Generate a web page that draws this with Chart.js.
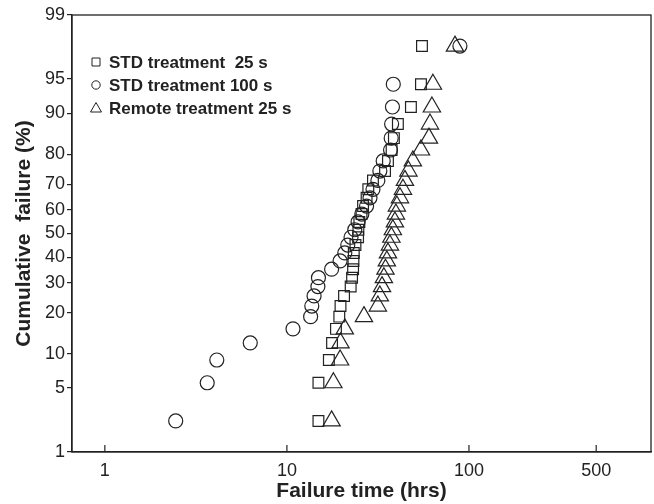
<!DOCTYPE html>
<html>
<head>
<meta charset="utf-8">
<script src="https://cdn.jsdelivr.net/npm/chart.js@4.4.1/dist/chart.umd.min.js"></script>
<style>
  html, body { margin: 0; padding: 0; background: #fff; }
</style>
</head>
<body>
<canvas id="c" width="654" height="504"></canvas>
<script>
// cumulative failure (%) levels, shared by the three samples (30 parts each)
const cumulativePct = [2.3, 5.6, 8.9, 12.2, 15.5, 18.8, 22.0, 25.3, 28.6, 31.9,
  35.2, 38.5, 41.8, 45.1, 48.4, 51.6, 54.9, 58.2, 61.5, 64.8,
  68.1, 71.4, 74.7, 78.0, 81.3, 84.5, 87.8, 91.1, 94.4, 97.7];

const std25Hours = [14.9, 14.9, 17.0, 17.7, 18.6, 19.4, 19.7, 20.6, 22.4, 22.8,
  23.1, 23.2, 23.3, 23.8, 24.6, 24.7, 25.0, 25.7, 26.2, 27.4,
  28.0, 29.7, 34.6, 35.9, 37.6, 38.7, 40.7, 48.0, 54.5, 55.2];
const std100Hours = [2.45, 3.65, 4.12, 6.29, 10.8, 13.5, 13.7, 14.1, 14.8, 14.9,
  17.6, 19.6, 20.8, 21.6, 22.5, 23.6, 24.6, 25.8, 27.4, 28.6,
  29.7, 31.6, 32.4, 33.8, 37.1, 37.4, 37.6, 38.0, 38.4, 89.2];
const remote25Hours = [17.6, 18.0, 19.6, 19.7, 20.8, 26.5, 31.6, 32.4, 33.3, 34.1,
  34.8, 35.4, 35.9, 36.8, 37.5, 38.2, 39.2, 39.7, 40.2, 41.8,
  43.4, 44.5, 46.5, 49.2, 54.5, 60.3, 61.1, 62.6, 63.4, 83.8];

const seriesLabels = ['STD treatment  25 s', 'STD treatment 100 s', 'Remote treatment 25 s'];
const xTicks = [1, 10, 100, 500];
const yTicks = [1, 5, 10, 20, 30, 40, 50, 60, 70, 80, 90, 95, 99];

const INK = '#222';
Chart.defaults.font.family = '"Liberation Sans", Arial, sans-serif';
Chart.defaults.color = INK;

// inverse standard normal CDF (Acklam)
function probit(p) {
  const a = [-39.69683028665376, 220.9460984245205, -275.9285104469687, 138.3577518672690, -30.66479806614716, 2.506628277459239];
  const b = [-54.47609879822406, 161.5858368580409, -155.6989798598866, 66.80131188771972, -13.28068155288572];
  const c = [-0.007784894002430293, -0.3223964580411365, -2.400758277161838, -2.549732539343734, 4.374664141464968, 2.938163982698783];
  const d = [0.007784695709041462, 0.3224671290700398, 2.445134137142996, 3.754408661907416];
  const lo = 0.02425;
  if (p < lo) {
    const q = Math.sqrt(-2 * Math.log(p));
    return (((((c[0]*q+c[1])*q+c[2])*q+c[3])*q+c[4])*q+c[5]) / ((((d[0]*q+d[1])*q+d[2])*q+d[3])*q+1);
  }
  if (p > 1 - lo) {
    const q = Math.sqrt(-2 * Math.log(1 - p));
    return -(((((c[0]*q+c[1])*q+c[2])*q+c[3])*q+c[4])*q+c[5]) / ((((d[0]*q+d[1])*q+d[2])*q+d[3])*q+1);
  }
  const q = p - 0.5, r = q * q;
  return (((((a[0]*r+a[1])*r+a[2])*r+a[3])*r+a[4])*r+a[5])*q / (((((b[0]*r+b[1])*r+b[2])*r+b[3])*r+b[4])*r+1);
}

// normal probability axis (values in %)
class ProbitScale extends Chart.Scale {
  static id = 'probit';
  static defaults = {};
  determineDataLimits() {
    this.min = this.options.min;
    this.max = this.options.max;
  }
  buildTicks() {
    return yTicks.map(v => ({ value: v }));
  }
  configure() {
    super.configure();
    this._zMin = probit(this.min / 100);
    this._zMax = probit(this.max / 100);
  }
  getLabelForValue(v) { return String(v); }
  getPixelForValue(v) {
    return this.getPixelForDecimal((probit(v / 100) - this._zMin) / (this._zMax - this._zMin));
  }
  getValueForPixel(px) {
    return this._zMin + this.getDecimalForPixel(px) * (this._zMax - this._zMin);
  }
}
Chart.register(ProbitScale);

function toPoints(hours) {
  return hours.map((h, i) => ({ x: h, y: cumulativePct[i] }));
}

const markerBase = {
  borderColor: INK,
  backgroundColor: 'rgba(0,0,0,0)',
  borderWidth: 1.2,
  hoverRadius: 0,
};

function drawMarker(ctx, style, x, y) {
  ctx.beginPath();
  if (style === 'rect') {
    ctx.rect(x - 4, y - 4, 8, 8);
  } else if (style === 'circle') {
    ctx.arc(x, y, 4.2, 0, Math.PI * 2);
  } else {
    ctx.moveTo(x, y - 5.5);
    ctx.lineTo(x + 5.5, y + 4);
    ctx.lineTo(x - 5.5, y + 4);
    ctx.closePath();
  }
  ctx.stroke();
}

const framePlugin = {
  id: 'frame',
  afterDraw(chart) {
    const { ctx, chartArea: a } = chart;
    const x = chart.scales.x;
    ctx.save();
    ctx.strokeStyle = INK;
    ctx.lineWidth = 1.3;
    ctx.strokeRect(a.left, a.top, a.right - a.left, a.bottom - a.top);
    ctx.lineWidth = 1.2;
    x.ticks.forEach(t => {
      const px = x.getPixelForValue(t.value);
      ctx.beginPath();
      ctx.moveTo(px, a.bottom);
      ctx.lineTo(px, a.bottom - 7);
      ctx.stroke();
    });
    // legend, top left inside the plot
    ctx.font = 'bold 17px "Liberation Sans", Arial, sans-serif';
    ctx.fillStyle = INK;
    ctx.textBaseline = 'middle';
    ctx.lineWidth = 1;
    chart.data.datasets.forEach((ds, i) => {
      const ly = a.top + 47 + i * 23;
      drawMarker(ctx, ds.pointStyle, a.left + 24, ly);
      ctx.fillText(ds.label, a.left + 37, ly + 1);
    });
    ctx.restore();
  }
};

new Chart(document.getElementById('c'), {
  type: 'scatter',
  data: {
    datasets: [
      { ...markerBase, label: seriesLabels[0], data: toPoints(std25Hours), pointStyle: 'rect', radius: 7.6 },
      { ...markerBase, label: seriesLabels[1], data: toPoints(std100Hours), pointStyle: 'circle', radius: 7 },
      { ...markerBase, label: seriesLabels[2], data: toPoints(remote25Hours), pointStyle: 'triangle', radius: 10 },
    ],
  },
  options: {
    responsive: false,
    animation: false,
    layout: { autoPadding: false, padding: { top: 15, right: 3, left: 0, bottom: 0 } },
    plugins: { legend: { display: false }, tooltip: { enabled: false } },
    scales: {
      x: {
        type: 'logarithmic',
        min: 0.66,
        max: 1000,
        afterBuildTicks: s => { s.ticks = xTicks.map(v => ({ value: v })); },
        afterFit: s => { s.height = 52; },
        grid: { drawOnChartArea: false, drawTicks: false },
        border: { color: INK, width: 1.3 },
        ticks: { font: { size: 18 }, color: INK, padding: 8, autoSkip: false, maxRotation: 0, callback: v => String(v) },
        title: { display: true, text: 'Failure time (hrs)', font: { size: 21, weight: 'bold' }, color: INK, padding: { top: 0, bottom: 0 } },
      },
      y: {
        type: 'probit',
        min: 1,
        max: 99,
        afterFit: s => { s.width = 72; },
        grid: { drawOnChartArea: false, drawTicks: true, tickLength: 5, color: INK, lineWidth: 1.2 },
        border: { color: INK, width: 1.3 },
        ticks: { font: { size: 18 }, color: INK, padding: 2, autoSkip: false },
        title: { display: true, text: 'Cumulative  failure (%)', font: { size: 21, weight: 'bold' }, color: INK, padding: { top: 12, bottom: 0 } },
      },
    },
  },
  plugins: [framePlugin],
});
</script>
</body>
</html>
